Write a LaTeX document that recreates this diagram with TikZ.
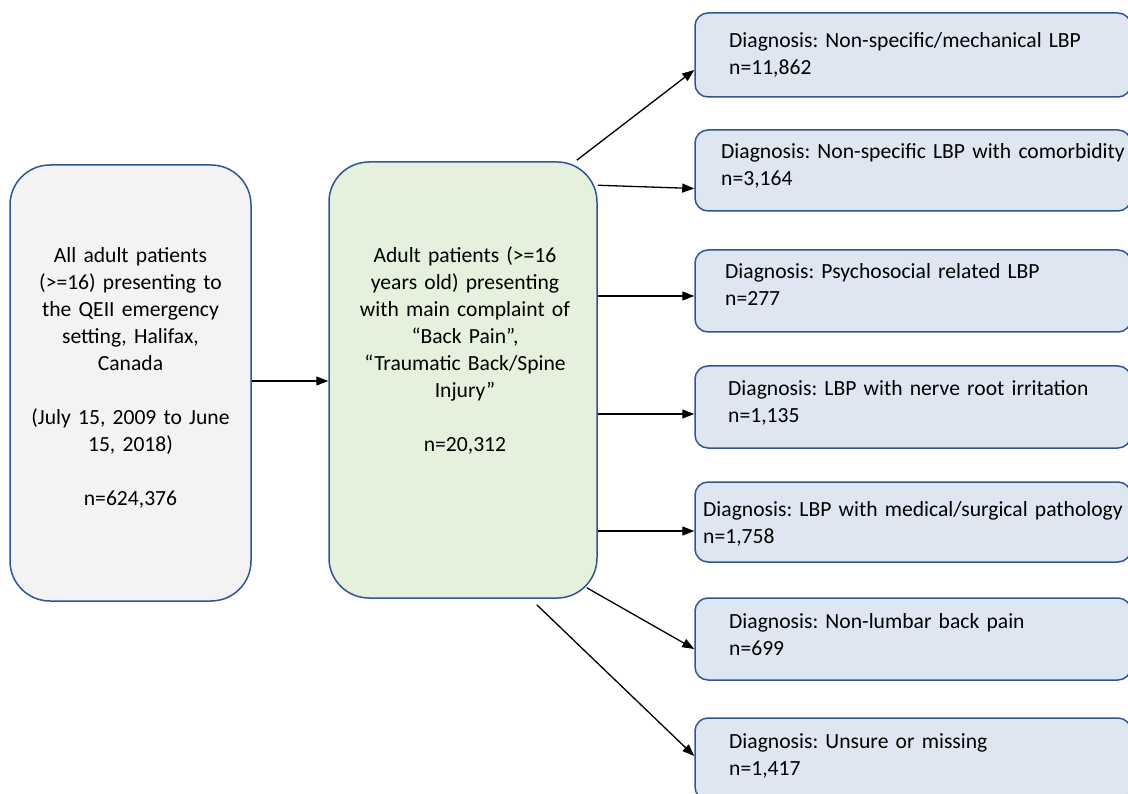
\documentclass[tikz,border=0pt]{standalone}
\usepackage{fontspec}
\setmainfont{Carlito}
\usetikzlibrary{arrows.meta,calc}
\definecolor{bordc}{HTML}{2F5597}
\definecolor{grayf}{HTML}{F3F3F3}
\definecolor{greenf}{HTML}{E5F0DD}
\definecolor{bluef}{HTML}{DEE6F2}
\frenchspacing
\hyphenpenalty=10000
\begin{document}
\begin{tikzpicture}[x=1pt,y=-1pt,
  bigbox/.style={draw=bordc, line width=1.5pt, rounded corners=40pt, inner sep=0pt},
  smallbox/.style={draw=bordc, line width=1.5pt, rounded corners=13pt, fill=bluef, minimum width=436pt, inner sep=0pt},
  txt/.style={font=\fontsize{21.6}{27}\selectfont, inner sep=0pt},
  rtxt/.style={txt, text width=600pt, align=left, anchor=base west},
  arr/.style={-{Triangle[length=12pt,width=9pt]}, line width=1.3pt}]
\useasboundingbox (0,0) rectangle (1128,794);
% left boxes
\node[bigbox, fill=grayf, minimum width=241pt, minimum height=436pt] (b1) at (130.5,383) {};
\node[bigbox, fill=greenf, minimum width=268pt, minimum height=436pt] (b2) at (463,380) {};
\node[txt, text width=240pt, align=center, anchor=base] (t1) at (130.5,263)
  {All adult patients\\(>=16) presenting to\\the QEII emergency\\setting, Halifax,\\Canada\\[27pt](July 15, 2009 to June\\15, 2018)\\[27pt]n=624,376};
\node[txt, text width=266pt, align=center, anchor=base] (t2) at (465,263)
  {Adult patients (>=16\\years old) presenting\\with main complaint of\\“Back Pain”,\\“Traumatic Back/Spine\\Injury”\\[27pt]n=20,312};
% right boxes
\node[smallbox, minimum height=84pt] (r1) at (913,55) {};
\node[smallbox, minimum height=81pt] (r2) at (913,170.5) {};
\node[smallbox, minimum height=82pt] (r3) at (913,291) {};
\node[smallbox, minimum height=82pt] (r4) at (913,407) {};
\node[smallbox, minimum height=80pt] (r5) at (913,522) {};
\node[smallbox, minimum height=82pt] (r6) at (913,639) {};
\node[smallbox, minimum height=82pt] (r7) at (913,759) {};
\node[rtxt] (tr1) at (729,48) {Diagnosis: Non-specific/mechanical LBP\\n=11,862};
\node[rtxt] (tr2) at (721,159) {Diagnosis: Non-specific LBP with comorbidity\\n=3,164};
\node[rtxt] (tr3) at (725,279) {Diagnosis: Psychosocial related LBP\\n=277};
\node[rtxt] (tr4) at (728,396) {Diagnosis: LBP with nerve root irritation\\n=1,135};
\node[rtxt] (tr5) at (703,516) {Diagnosis: LBP with medical/surgical pathology\\n=1,758};
\node[rtxt] (tr6) at (729,628) {Diagnosis: Non-lumbar back pain\\n=699};
\node[rtxt] (tr7) at (729,748) {Diagnosis: Unsure or missing\\n=1,417};
% connectors
\coordinate (c0) at ([yshift=2pt]b1.east);
\draw[arr] (c0) -- (c0 -| b2.west);
\draw[arr] ([xshift=-21pt,yshift=1pt]b2.north east) -- ([yshift=-15pt]r1.west);
\draw[arr] ([yshift=-24pt]b2.north east) -- ([yshift=-18pt]r2.west);
\coordinate (e3) at ([yshift=-5pt]r3.west);
\draw[arr] (e3 -| b2.east) -- (e3);
\coordinate (e4) at ([yshift=-7pt]r4.west);
\draw[arr] (e4 -| b2.east) -- (e4);
\coordinate (e5) at ([yshift=-9pt]r5.west);
\draw[arr] (e5 -| b2.east) -- (e5);
\draw[arr] ([xshift=-11pt,yshift=11pt]b2.south east) -- ([yshift=-10pt]r6.west);
\draw[arr] ([xshift=-61pt,yshift=-6pt]b2.south east) -- ([yshift=3pt]r7.west);
\end{tikzpicture}
\end{document}
